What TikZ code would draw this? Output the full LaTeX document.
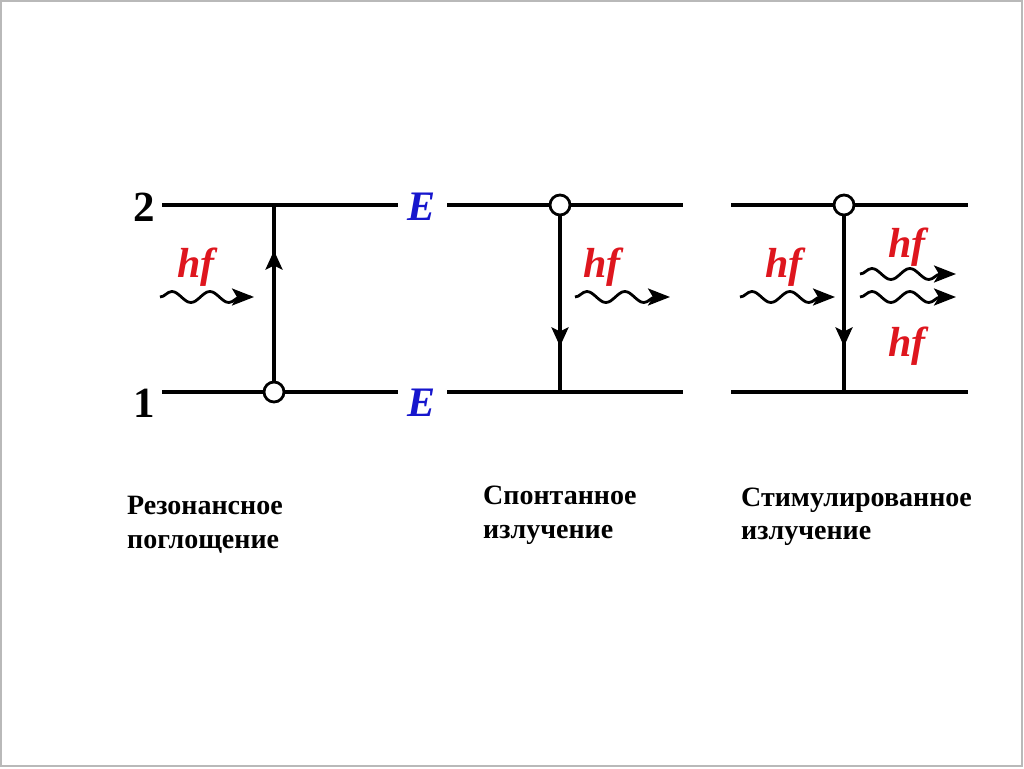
\documentclass[tikz,border=0pt]{standalone}
\usepackage{fontspec}
\setmainfont{Liberation Serif}
\usetikzlibrary{arrows.meta,decorations.pathmorphing,decorations.markings}
\definecolor{hfred}{RGB}{222,22,30}
\definecolor{eblue}{RGB}{22,22,205}
\begin{document}
\begin{tikzpicture}[x=1pt,y=-1pt,
  level/.style={line width=3.2pt},
  atom/.style={circle,draw,fill=white,line width=2.8pt,minimum size=20pt,inner sep=0pt},
  trans/.style={line width=3.2pt,postaction=decorate,
    decoration={markings,mark=at position #1 with {\arrow{Stealth[length=19pt,width=17pt,inset=4pt]}}}},
  wave/.style={line width=2.8pt,-{Stealth[length=22pt,width=17pt,inset=5pt]},decorate,
    decoration={snake,amplitude=5.5pt,segment length=38pt,post length=12pt}},
  hf/.style={text=hfred,font=\bfseries\itshape\fontsize{42}{42}\selectfont,inner sep=0pt},
  elbl/.style={text=eblue,font=\bfseries\itshape\fontsize{42}{42}\selectfont,inner sep=0pt},
  num/.style={font=\bfseries\fontsize{43}{43}\selectfont,inner sep=0pt},
  captxt/.style={font=\bfseries\fontsize{28}{28}\selectfont,inner sep=0pt,anchor=base west}]
\useasboundingbox (0,0) rectangle (1024,768);
\draw[gray!55,line width=1.5pt] (1,1) rectangle (1022,766);

% level lines
\coordinate (a1) at (162,205); \coordinate (a2) at (398,205);
\coordinate (b1) at (162,392); \coordinate (b2) at (398,392);
\coordinate (c1) at (447,205); \coordinate (c2) at (683,205);
\coordinate (d1) at (447,392); \coordinate (d2) at (683,392);
\coordinate (e1) at (731,205); \coordinate (e2) at (968,205);
\coordinate (f1) at (731,392); \coordinate (f2) at (968,392);
\draw[level] (a1) -- (a2);
\draw[level] (b1) -- (b2);
\draw[level] (c1) -- (c2);
\draw[level] (d1) -- (d2);
\draw[level] (e1) -- (e2);
\draw[level] (f1) -- (f2);

% labels
\node[num] (n2) at (144,207) {2};
\node[num] (n1) at (144,403) {1};
\node[elbl] (E2) at (421,207) {E};
\node[elbl] (E1) at (421,403) {E};

% transitions
\coordinate (t1) at (274,205);
\node[atom] (p1) at (274,392) {};
\draw[trans=130pt] (p1) -- (t1);

\coordinate (t2) at (560,392);
\node[atom] (p2) at (560,205) {};
\draw[trans=130pt] (p2) -- (t2);

\coordinate (t3) at (844,392);
\node[atom] (p3) at (844,205) {};
\draw[trans=130pt] (p3) -- (t3);

% photons
\node[hf] (h1) at (196,267) {hf};
\coordinate (w1s) at (160,297); \coordinate (w1e) at (254,297);
\draw[wave] (w1s) -- (w1e);

\node[hf] (h2) at (602,267) {hf};
\coordinate (w2s) at (575,297); \coordinate (w2e) at (670,297);
\draw[wave] (w2s) -- (w2e);

\node[hf] (h3) at (784,267) {hf};
\coordinate (w3s) at (740,297); \coordinate (w3e) at (835,297);
\draw[wave] (w3s) -- (w3e);

\node[hf] (h4) at (907,247) {hf};
\coordinate (w4s) at (860,274); \coordinate (w4e) at (956,274);
\draw[wave] (w4s) -- (w4e);
\coordinate (w5s) at (860,297); \coordinate (w5e) at (956,297);
\draw[wave] (w5s) -- (w5e);
\node[hf] (h5) at (907,346) {hf};

% captions
\node[captxt] (r1) at (127,514) {Резонансное};
\node[captxt] (r2) at (127,548) {поглощение};
\node[captxt] (s1) at (483,504) {Спонтанное};
\node[captxt] (s2) at (483,538) {излучение};
\node[captxt] (m1) at (741,506) {Стимулированное};
\node[captxt] (m2) at (741,539) {излучение};
\end{tikzpicture}
\end{document}
